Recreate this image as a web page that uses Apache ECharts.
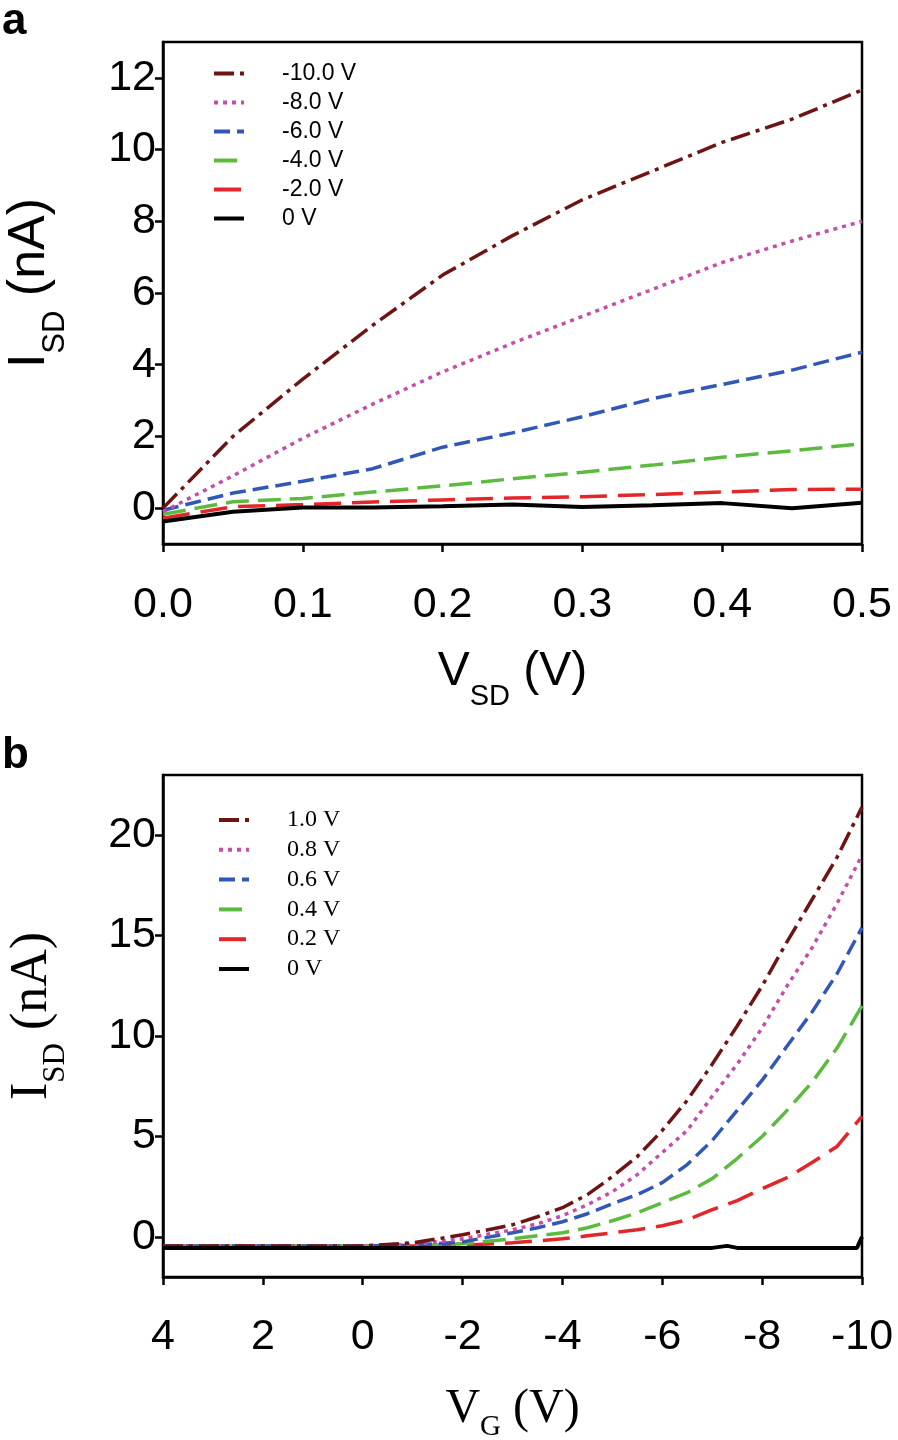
<!DOCTYPE html>
<html><head><meta charset="utf-8">
<script src="https://cdn.jsdelivr.net/npm/echarts@6/dist/echarts.min.js"></script>
<style>html,body{margin:0;padding:0;background:#fff}#c{width:898px;height:1440px}</style>
</head><body><div id="c"></div>
<script>
// ---- Panel a: I_SD vs V_SD ----
const vsd = [0, 0.05, 0.1, 0.15, 0.2, 0.25, 0.3, 0.35, 0.4, 0.45, 0.5];
const aNames = ['-10.0 V', '-8.0 V', '-6.0 V', '-4.0 V', '-2.0 V', '0 V'];
const aG10 = [0, 2.0, 3.6, 5.1, 6.5, 7.6, 8.6, 9.4, 10.2, 10.85, 11.66];
const aG8  = [-0.1, 0.9, 1.95, 2.9, 3.8, 4.6, 5.35, 6.1, 6.85, 7.45, 8.0];
const aG6  = [-0.06, 0.42, 0.75, 1.1, 1.7, 2.1, 2.55, 3.05, 3.45, 3.85, 4.35];
const aG4  = [-0.17, 0.18, 0.27, 0.45, 0.62, 0.82, 1.0, 1.2, 1.42, 1.6, 1.8];
const aG2  = [-0.28, 0.04, 0.1, 0.17, 0.23, 0.28, 0.32, 0.38, 0.45, 0.52, 0.53];
const aG0  = [-0.37, -0.1, 0.02, 0.02, 0.05, 0.1, 0.03, 0.08, 0.14, 0.0, 0.15];
const aYTicks = [0, 2, 4, 6, 8, 10, 12];

// ---- Panel b: I_SD vs V_G ----
const vg = [4, 2, 0, -1, -2, -3, -3.5, -4, -4.5, -5, -5.5, -6, -6.5, -7, -7.5, -8, -8.5, -9, -9.5, -10];
const bNames = ['1.0 V', '0.8 V', '0.6 V', '0.4 V', '0.2 V', '0 V'];
const bD10 = [-0.45, -0.45, -0.45, -0.3, 0.1, 0.6, 1.0, 1.45, 2.1, 3.0, 4.0, 5.3, 6.8, 8.6, 10.5, 12.5, 14.7, 16.8, 18.9, 21.4];
const bD08 = [-0.45, -0.45, -0.45, -0.38, -0.1, 0.35, 0.65, 1.05, 1.6, 2.25, 3.1, 4.2, 5.3, 7.0, 8.6, 10.4, 12.5, 14.4, 16.6, 19.0];
const bD06 = [-0.45, -0.45, -0.45, -0.42, -0.25, 0.2, 0.45, 0.75, 1.15, 1.65, 2.1, 2.7, 3.6, 4.8, 6.3, 7.8, 9.5, 11.2, 13.1, 15.4];
const bD04 = [-0.45, -0.45, -0.45, -0.45, -0.35, -0.1, 0.05, 0.2, 0.45, 0.8, 1.2, 1.7, 2.2, 2.9, 3.9, 5.0, 6.3, 7.7, 9.4, 11.5];
const bD02 = [-0.45, -0.45, -0.45, -0.45, -0.42, -0.3, -0.2, -0.1, 0.05, 0.2, 0.35, 0.55, 0.85, 1.35, 1.8, 2.4, 2.95, 3.7, 4.5, 6.0];
const vg0  = [4, 0, -4, -7, -7.3, -7.5, -9, -9.9, -10];
const bD00 = [-0.55, -0.55, -0.55, -0.55, -0.45, -0.55, -0.55, -0.55, 0.0];
const bYTicks = [0, 5, 10, 15, 20];

const colors = ['#6e1414', '#c24fa9', '#3157b7', '#5cbb3e', '#e2262a', '#000000'];
const dashes = [[20, 6, 4, 6], [4, 5], [16, 7], [23, 9], [27, 11], 'solid'];

const SANS = 'Liberation Sans, Arial, sans-serif';
const SERIF = 'Liberation Serif, Times New Roman, serif';

function pairs(xs, ys) { return xs.map((x, i) => [x, ys[i]]); }

function mkSeries(name, xs, ys, idx, axisIdx) {
  return {
    type: 'line', name: name, data: pairs(xs, ys),
    xAxisIndex: axisIdx, yAxisIndex: axisIdx,
    symbol: 'none', smooth: false,
    lineStyle: { color: colors[idx], width: idx === 5 ? 4 : 3.5, type: dashes[idx], cap: 'butt' },
    itemStyle: { color: colors[idx] },
    z: idx === 5 ? 20 : 10 - idx
  };
}

const aVals = [aG10, aG8, aG6, aG4, aG2, aG0];
const bVals = [bD10, bD08, bD06, bD04, bD02];
const series = [];
aVals.forEach((v, i) => series.push(mkSeries(aNames[i], vsd, v, i, 0)));
bVals.forEach((v, i) => series.push(mkSeries(bNames[i], vg, v, i, 1)));
series.push(mkSeries(bNames[5], vg0, bD00, 5, 1));

function richName(font, size, subSize, pad) {
  return {
    m: { fontFamily: font, fontSize: size, color: '#000', verticalAlign: 'top' },
    s: { fontFamily: font, fontSize: subSize, color: '#000', verticalAlign: 'top', padding: [pad, 0, 0, 0] }
  };
}

const axisCommon = {
  axisLine: { onZero: false, lineStyle: { color: '#000', width: 2.5 } },
  axisTick: { show: true, inside: false, length: 8, lineStyle: { color: '#000', width: 2.5 } },
  splitLine: { show: false }
};

const legendCommon = {
  orient: 'vertical', itemWidth: 30, itemHeight: 14, padding: 0,
  selectedMode: false,
  lineStyle: { width: 4 },
  itemStyle: { opacity: 0 }
};

const option = {
  animation: false,
  backgroundColor: '#fff',
  grid: [
    { left: 163, top: 42, width: 699, height: 502, show: true, borderColor: '#000', borderWidth: 2.5, outerBoundsMode: 'none', containLabel: false },
    { left: 163, top: 775, width: 699, height: 502, show: true, borderColor: '#000', borderWidth: 2.5, outerBoundsMode: 'none', containLabel: false }
  ],
  xAxis: [
    Object.assign({}, axisCommon, {
      type: 'value', gridIndex: 0, min: 0, max: 0.5, interval: 0.1,
      axisLabel: { fontFamily: SANS, fontSize: 43, color: '#000', margin: 40, formatter: v => v.toFixed(1) },
      name: '{m|V}{s|SD}{m| (V)}', nameLocation: 'middle', nameGap: 104,
      nameTextStyle: { rich: richName(SANS, 48, 29, 34) }
    }),
    Object.assign({}, axisCommon, {
      type: 'value', gridIndex: 1, min: -10, max: 4, interval: 2, inverse: true,
      axisLabel: { fontFamily: SANS, fontSize: 43, color: '#000', margin: 39 },
      name: '{m|V}{s|G}{m| (V)}', nameLocation: 'middle', nameGap: 108,
      nameTextStyle: { rich: richName(SERIF, 48, 29, 28) }
    })
  ],
  yAxis: [
    Object.assign({}, axisCommon, {
      type: 'value', gridIndex: 0, min: -1, max: 13,
      axisTick: Object.assign({}, axisCommon.axisTick, { customValues: aYTicks }),
      axisLabel: { fontFamily: SANS, fontSize: 43, color: '#000', margin: 7, customValues: aYTicks },
      name: '{m|I}{s|SD}{m| (nA)}', nameLocation: 'middle', nameGap: 92, nameRotate: 90,
      nameTextStyle: { rich: richName(SANS, 52, 31, 36), padding: [0, 0, 0, 20] }
    }),
    Object.assign({}, axisCommon, {
      type: 'value', gridIndex: 1, min: -2, max: 23,
      axisTick: Object.assign({}, axisCommon.axisTick, { customValues: bYTicks }),
      axisLabel: { fontFamily: SANS, fontSize: 43, color: '#000', margin: 7, customValues: bYTicks },
      name: '{m|I}{s|SD}{m| (nA)}', nameLocation: 'middle', nameGap: 92, nameRotate: 90,
      nameTextStyle: { rich: richName(SERIF, 52, 31, 34), padding: [0, 0, 0, 20] }
    })
  ],
  legend: [
    Object.assign({}, legendCommon, {
      data: aNames, left: 212, top: 62, itemGap: 6,
      textStyle: { fontFamily: SANS, fontSize: 23, color: '#000', padding: [0, 0, 0, 33] }
    }),
    Object.assign({}, legendCommon, {
      data: bNames, left: 217, top: 808, itemGap: 5.8,
      textStyle: { fontFamily: SERIF, fontSize: 24, color: '#000', padding: [0, 0, 0, 33] }
    })
  ],
  graphic: [
    { type: 'text', left: 2, top: 0, style: { text: 'a', fontFamily: SANS, fontWeight: 'bold', fontSize: 44, fill: '#000' } },
    { type: 'text', left: 2, top: 734, style: { text: 'b', fontFamily: SANS, fontWeight: 'bold', fontSize: 44, fill: '#000' } }
  ],
  series: series
};

const chart = echarts.init(document.getElementById('c'), null, { renderer: 'canvas' });
chart.setOption(option);
</script>
</body></html>
